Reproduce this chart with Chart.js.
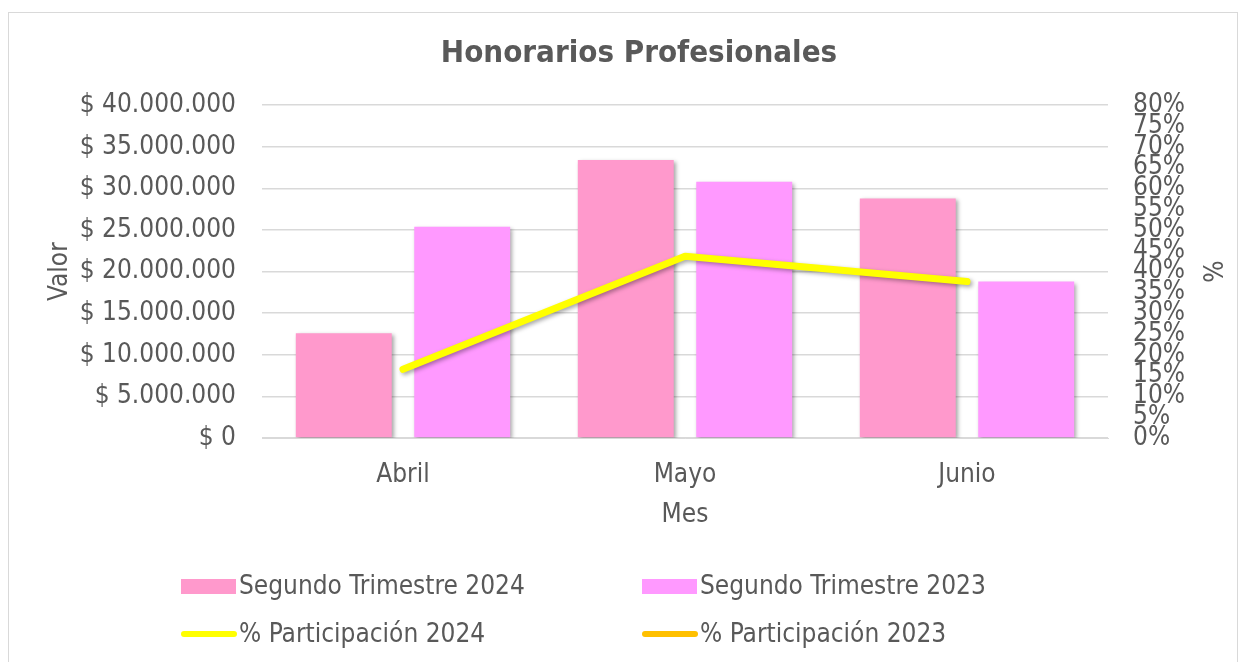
<!DOCTYPE html>
<html>
<head>
<meta charset="utf-8">
<script src="https://cdn.jsdelivr.net/npm/chart.js@4.4.1/dist/chart.umd.min.js"></script>
<style>
  body { margin: 0; background: #fff; }
  #frame { position: absolute; left: 8px; top: 12px; width: 1228px; height: 700px; border: 1px solid #d9d9d9; }
  #wrap { position: absolute; left: 0; top: 0; width: 1248px; height: 662px; }
</style>
</head>
<body>
<div id="frame"></div>
<div id="wrap"><canvas id="myChart" width="1248" height="662"></canvas></div>
<script>
const FONT = "'DejaVu Sans Condensed', 'DejaVu Sans', sans-serif";
const GRAY = '#595959';

const meses = ['Abril', 'Mayo', 'Junio'];
const trimestre2024 = [12600000, 33400000, 28800000];
const trimestre2023 = [25400000, 30800000, 18800000];
const participacion2024 = [16.5, 43.7, 37.6];
const participacion2023 = [null, null, null];

function pesos(v) {
  return '$ ' + String(Math.round(v)).replace(/\B(?=(\d{3})+(?!\d))/g, '.');
}

// sombra suave para barras y linea
const sombra = {
  id: 'sombra',
  beforeDatasetDraw(chart) {
    const c = chart.ctx;
    c.save();
    c.shadowColor = 'rgba(0,0,0,0.35)';
    c.shadowBlur = 4;
    c.shadowOffsetX = 2;
    c.shadowOffsetY = 2;
  },
  afterDatasetDraw(chart) {
    chart.ctx.restore();
  }
};

// leyenda en dos columnas
const leyenda = {
  id: 'leyenda',
  afterDraw(chart) {
    const c = chart.ctx;
    const cols = [181, 642];
    const rows = [586, 634];
    c.save();
    c.font = '26px ' + FONT;
    c.textBaseline = 'middle';
    chart.data.datasets.forEach((ds, i) => {
      const x = cols[i % 2];
      const y = rows[Math.floor(i / 2)];
      if (ds.type === 'line') {
        c.strokeStyle = ds.borderColor;
        c.lineWidth = 6;
        c.lineCap = 'round';
        c.beginPath();
        c.moveTo(x + 3, y);
        c.lineTo(x + 53, y);
        c.stroke();
      } else {
        c.fillStyle = ds.backgroundColor;
        c.fillRect(x, y - 7, 55, 15);
      }
      c.fillStyle = GRAY;
      c.fillText(ds.label, x + 58, y + 1);
    });
    c.restore();
  }
};

const ctx = document.getElementById('myChart');
const config = {
  data: {
    labels: meses,
    datasets: [{
      type: 'bar',
      label: 'Segundo Trimestre 2024',
      data: trimestre2024,
      backgroundColor: 'rgb(255, 153, 204)',
      yAxisID: 'y',
      order: 2,
      categoryPercentage: 0.84,
      barPercentage: 0.81
    }, {
      type: 'bar',
      label: 'Segundo Trimestre 2023',
      data: trimestre2023,
      backgroundColor: 'rgb(255, 153, 255)',
      yAxisID: 'y',
      order: 2,
      categoryPercentage: 0.84,
      barPercentage: 0.81
    }, {
      type: 'line',
      label: '% Participación 2024',
      data: participacion2024,
      borderColor: '#ffff00',
      backgroundColor: '#ffff00',
      borderWidth: 7,
      borderCapStyle: 'round',
      borderJoinStyle: 'round',
      pointRadius: 0,
      yAxisID: 'y1',
      order: 1
    }, {
      type: 'line',
      label: '% Participación 2023',
      data: participacion2023,
      borderColor: '#ffc000',
      backgroundColor: '#ffc000',
      borderWidth: 7,
      pointRadius: 0,
      yAxisID: 'y1',
      order: 1
    }]
  },
  options: {
    responsive: false,
    animation: false,
    layout: { padding: { left: 40, right: 10, top: 12, bottom: 124 } },
    plugins: {
      legend: { display: false },
      tooltip: { enabled: false },
      title: {
        display: true,
        text: 'Honorarios Profesionales',
        color: GRAY,
        font: { family: FONT, size: 31, weight: 'bold' },
        padding: { top: 23, bottom: 33 }
      }
    },
    scales: {
      x: {
        grid: { display: false },
        border: { display: true, color: '#d9d9d9' },
        ticks: { color: GRAY, font: { family: FONT, size: 26 }, padding: 14 },
        title: { display: true, text: 'Mes', color: GRAY, font: { family: FONT, size: 26 }, padding: { bottom: 7 } },
        afterFit(s) { s.height = 100; }
      },
      y: {
        position: 'left',
        min: 0,
        max: 40000000,
        grid: { color: '#d9d9d9', lineWidth: 1.5, drawTicks: false },
        border: { display: false },
        ticks: {
          stepSize: 5000000,
          autoSkip: false,
          color: GRAY,
          padding: 26,
          font: { family: FONT, size: 26 },
          callback: v => pesos(v)
        },
        title: { display: true, text: 'Valor', color: GRAY, font: { family: FONT, size: 26 }, padding: { top: 5 } },
        afterFit(s) { s.width = 222; }
      },
      y1: {
        position: 'right',
        min: 0,
        max: 80,
        grid: { display: false, drawTicks: false },
        border: { display: false },
        ticks: {
          stepSize: 5,
          autoSkip: false,
          color: GRAY,
          padding: 25,
          font: { family: FONT, size: 26, lineHeight: 0.7 },
          callback: v => v + '%'
        },
        title: { display: true, text: '%', color: GRAY, font: { family: FONT, size: 26 }, padding: { top: 13 } },
        afterFit(s) { s.width = 130; }
      }
    }
  },
  plugins: [sombra, leyenda]
};
new Chart(ctx, config);
</script>
</body>
</html>
